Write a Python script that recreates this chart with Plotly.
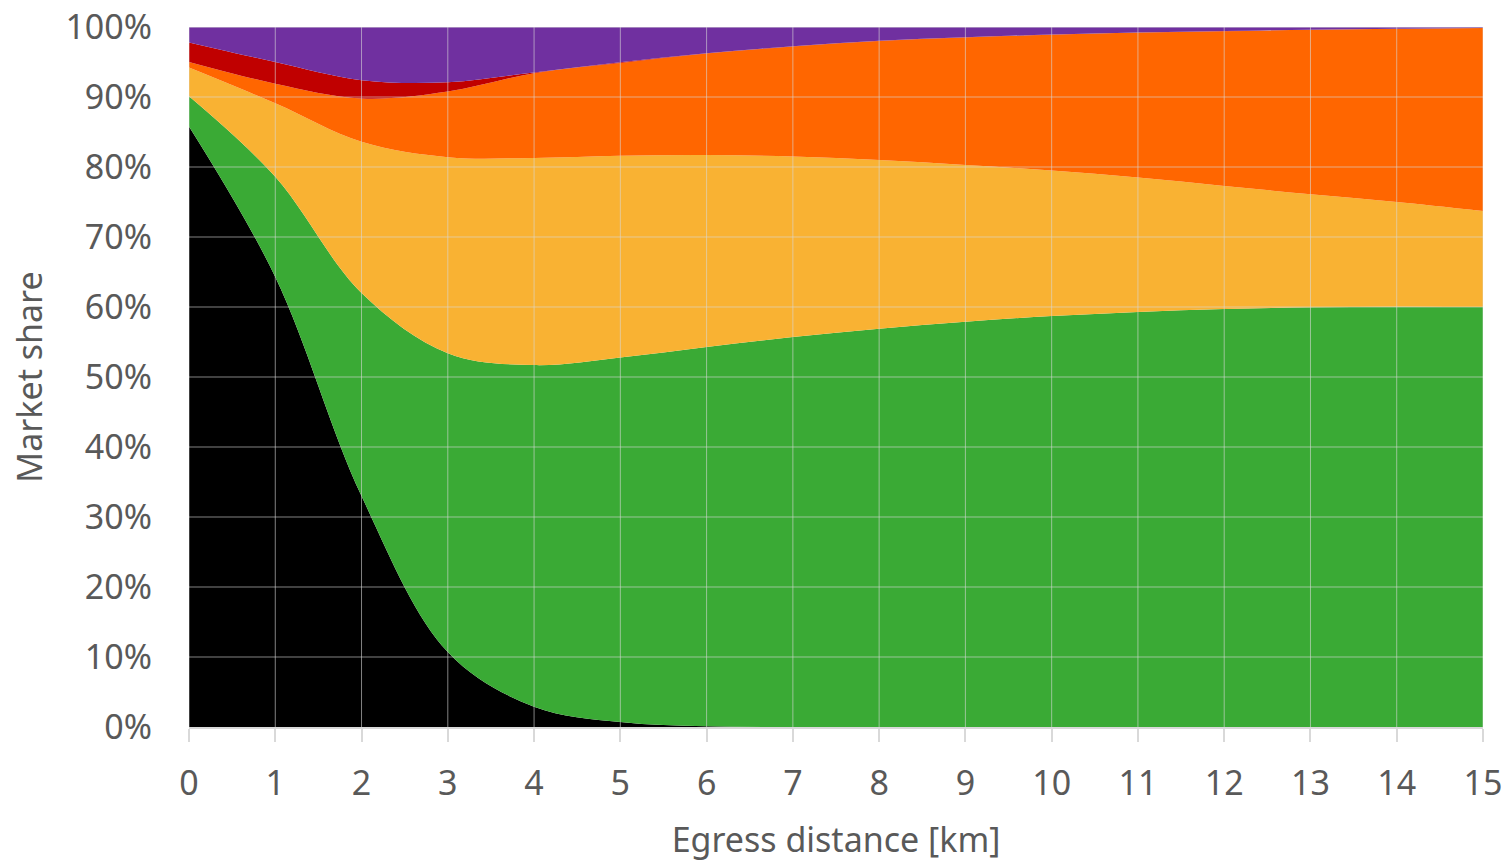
import plotly.graph_objects as go

distance_km = [0, 1, 2, 3, 4, 5, 6, 7, 8, 9, 10, 11, 12, 13, 14, 15]

series_names = ["Walk", "Bike", "Bus/Tram", "Car", "Taxi", "Other"]
walk = [85.8, 64.3, 33.0, 10.7, 2.9, 0.7, 0.1, 0, 0, 0, 0, 0, 0, 0, 0, 0]
bike = [4.3, 14.3, 29.0, 42.7, 48.8, 52.1, 54.2, 55.7, 56.9, 57.9, 58.7, 59.3, 59.7, 59.95, 60.05, 60.0]
bus_tram = [4.1, 10.5, 21.6, 28.0, 29.6, 28.8, 27.4, 25.8, 24.1, 22.4, 20.8, 19.2, 17.6, 16.15, 14.95, 13.7]
car = [0.8, 2.8, 6.2, 9.4, 12.1, 13.25, 14.5, 15.7, 17.0, 18.2, 19.4, 20.7, 22.1, 23.5, 24.75, 26.16]
taxi = [2.8, 3.1, 2.6, 1.3, 0.1, 0.1, 0.05, 0.05, 0.03, 0.02, 0.02, 0.02, 0.02, 0.01, 0.01, 0.01]
other = [2.2, 5.0, 7.6, 7.9, 6.5, 5.05, 3.75, 2.75, 1.97, 1.48, 1.08, 0.78, 0.58, 0.39, 0.24, 0.13]

x_ticks = list(range(0, 16))
y_ticks = list(range(0, 101, 10))
y_ticktext = [f"{v}%" for v in y_ticks]

colors = ["#000000", "#3AAA35", "#F9B233", "#FF6600", "#C00000", "#7030A0"]
all_series = [walk, bike, bus_tram, car, taxi, other]

fig = go.Figure()
for name, vals, col in zip(series_names, all_series, colors):
    fig.add_trace(go.Scatter(
        x=distance_km, y=vals, name=name, mode="lines",
        stackgroup="one", line=dict(width=0, shape="spline", smoothing=1, color=col),
        fillcolor=col, hoverinfo="x+y+name",
    ))

grid_col = "rgba(217,217,217,0.6)"
shapes = []
for xv in x_ticks:
    shapes.append(dict(type="line", xref="x", yref="paper", x0=xv, x1=xv, y0=0, y1=1,
                       line=dict(color=grid_col, width=1), layer="above"))
for yv in y_ticks[1:]:
    shapes.append(dict(type="line", xref="paper", yref="y", x0=0, x1=1, y0=yv, y1=yv,
                       line=dict(color=grid_col if yv < 100 else "#D9D9D9", width=1), layer="above"))

font_family = "Segoe UI, Noto Sans, Open Sans, sans-serif"
text_col = "#595959"

fig.update_layout(
    width=1509, height=862,
    margin=dict(l=189, r=26, t=27, b=135, autoexpand=False),
    paper_bgcolor="white", plot_bgcolor="white",
    showlegend=False,
    font=dict(family=font_family, size=34, color=text_col),
    shapes=shapes,
    xaxis=dict(
        range=[0, 15], tickvals=x_ticks, showgrid=False, zeroline=False,
        showline=True, linecolor="#D9D9D9", linewidth=2,
        ticks="outside", ticklen=13, tickwidth=2, tickcolor="#D9D9D9",
        ticklabelstandoff=12, automargin=False, ticklabeloverflow="allow",
        tickfont=dict(size=34, color=text_col),
        title=dict(text="Egress distance [km]", font=dict(size=34, color=text_col), standoff=46),
        layer="above traces",
    ),
    yaxis=dict(
        range=[0, 100], tickvals=y_ticks, ticktext=y_ticktext, showgrid=False, zeroline=False,
        showline=False, ticks="", ticklabelstandoff=36, automargin=False, ticklabeloverflow="allow",
        tickfont=dict(size=34, color=text_col),
        title=dict(text="Market share", font=dict(size=34, color=text_col), standoff=12),
    ),
)

# remove the browser's default 8px body margin so the figure fills the window exactly
fig.write_html(
    "out.html",
    config={"displayModeBar": False},
    post_script="document.body.style.margin='0';document.body.style.overflow='hidden';",
)
